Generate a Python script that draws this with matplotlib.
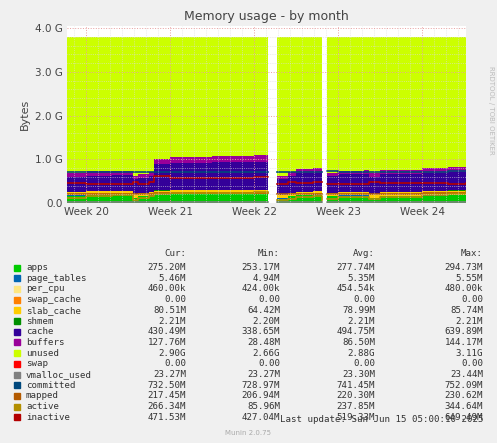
import numpy as np
import matplotlib.pyplot as plt
from matplotlib.ticker import MultipleLocator

# time in weeks, NaN separates the two gaps
weeks = [19.77, 20.0, 20.3, 20.55, 20.62, 20.75, 20.8, 21.0, 21.5, 22.0, 22.16,
         22.27, 22.4, 22.5, 22.7, 22.81,
         22.86, 23.0, 23.3, 23.37, 23.5, 24.0, 24.3, 24.52]
gap_after = [10, 15]  # indexes where data ends before a gap

apps = [0.17, 0.18, 0.19, 0.12, 0.15, 0.17, 0.19, 0.2, 0.2, 0.2, 0.2,
        0.1, 0.15, 0.18, 0.19, 0.15,
        0.15, 0.17, 0.17, 0.12, 0.16, 0.17, 0.18, 0.18]
page_tables = [0.005] * 24
per_cpu = [0.0005] * 24
swap_cache = [0.0] * 24
slab_cache = [0.08, 0.08, 0.08, 0.08, 0.08, 0.08, 0.09, 0.09, 0.1, 0.1, 0.1,
              0.07, 0.07, 0.07, 0.07, 0.07,
              0.07, 0.07, 0.07, 0.07, 0.08, 0.09, 0.1, 0.1]
shmem = [0.002] * 24
cache = [0.34, 0.36, 0.36, 0.34, 0.34, 0.36, 0.6, 0.62, 0.63, 0.64, 0.64,
         0.38, 0.4, 0.42, 0.43, 0.42,
         0.4, 0.41, 0.42, 0.4, 0.42, 0.43, 0.43, 0.43]
buffers = [0.09, 0.1, 0.1, 0.08, 0.09, 0.1, 0.11, 0.13, 0.14, 0.14, 0.14,
           0.06, 0.08, 0.09, 0.1, 0.09,
           0.06, 0.08, 0.09, 0.08, 0.09, 0.1, 0.11, 0.13]
total = 3.8
swap = [0.0] * 24
vmalloc_used = [0.023] * 24
committed = [0.72, 0.72, 0.72, 0.72, 0.72, 0.72, 0.72, 0.72, 0.72, 0.72, 0.72,
             0.7, 0.7, 0.7, 0.7, 0.7,
             0.73, 0.72, 0.72, 0.72, 0.72, 0.72, 0.73, 0.73]
mapped = [0.2, 0.21, 0.21, 0.21, 0.21, 0.21, 0.22, 0.22, 0.22, 0.22, 0.22,
          0.21, 0.21, 0.21, 0.21, 0.21,
          0.21, 0.21, 0.21, 0.21, 0.21, 0.22, 0.22, 0.22]
active = [0.12, 0.15, 0.18, 0.08, 0.12, 0.15, 0.2, 0.22, 0.24, 0.26, 0.26,
          0.06, 0.1, 0.14, 0.15, 0.08,
          0.1, 0.13, 0.14, 0.1, 0.14, 0.18, 0.2, 0.27]
inactive = [0.46, 0.44, 0.44, 0.47, 0.44, 0.47, 0.62, 0.58, 0.58, 0.6, 0.6,
            0.43, 0.47, 0.45, 0.47, 0.48,
            0.44, 0.44, 0.44, 0.47, 0.45, 0.45, 0.44, 0.45]

names = ["apps", "page_tables", "per_cpu", "swap_cache", "slab_cache", "shmem",
         "cache", "buffers", "unused", "swap", "vmalloc_used", "committed",
         "mapped", "active", "inactive"]
colors = ["#00CC00", "#0066B3", "#FFE680", "#FF8000", "#FFCC00", "#008F00",
          "#330099", "#990099", "#CCFF00", "#FF0000", "#808080", "#00487D",
          "#B35A00", "#B38F00", "#B30000"]
cur = ["275.20M", "5.46M", "460.00k", "0.00", "80.51M", "2.21M", "430.49M",
       "127.76M", "2.90G", "0.00", "23.27M", "732.50M", "217.45M", "266.34M", "471.53M"]
mins = ["253.17M", "4.94M", "424.00k", "0.00", "64.42M", "2.20M", "338.65M",
        "28.48M", "2.66G", "0.00", "23.27M", "728.97M", "206.94M", "85.96M", "427.04M"]
avgs = ["277.74M", "5.35M", "454.54k", "0.00", "78.99M", "2.21M", "494.75M",
        "86.50M", "2.88G", "0.00", "23.30M", "741.45M", "220.30M", "237.85M", "519.33M"]
maxs = ["294.73M", "5.55M", "480.00k", "0.00", "85.74M", "2.21M", "639.89M",
        "144.17M", "3.11G", "0.00", "23.44M", "752.09M", "230.62M", "344.64M", "649.49M"]

bg = "#F0F0F0"
fig = plt.figure(figsize=(4.97, 4.43), dpi=100, facecolor=bg)
ax = fig.add_axes([67/497, 1-203/443, 399/497, 177/443])
ax.set_facecolor("white")

t = np.array(weeks)
areas = np.array([apps, page_tables, per_cpu, swap_cache, slab_cache, shmem, cache, buffers])
unused = total - areas.sum(axis=0)
areas = np.vstack([areas, unused, swap])
lines = [vmalloc_used, committed, mapped, active, inactive]

segs = [(0, gap_after[0] + 1), (gap_after[0] + 1, gap_after[1] + 1), (gap_after[1] + 1, len(t))]
for a, b in segs:
    ts = t[a:b]
    bottom = np.zeros(b - a)
    for i in range(areas.shape[0]):
        ax.fill_between(ts, bottom, bottom + areas[i, a:b], step="post",
                        color=colors[i], lw=0)
        bottom = bottom + areas[i, a:b]
    for j, l in enumerate(lines):
        ax.step(ts, np.array(l)[a:b], where="post", color=colors[10 + j], lw=1.2)

ax.set_xlim(19.77, 24.52)
ax.set_ylim(0, 4.05)
ax.set_xticks([20, 21, 22, 23, 24])
ax.set_xticklabels(["Week 20", "Week 21", "Week 22", "Week 23", "Week 24"])
ax.set_yticks([0, 1, 2, 3, 4])
ax.set_yticklabels(["0.0", "1.0 G", "2.0 G", "3.0 G", "4.0 G"])
ax.yaxis.set_minor_locator(MultipleLocator(0.2))
ax.xaxis.set_minor_locator(MultipleLocator(1/7))
ax.grid(which="minor", color="#DDDDDD", ls=":", lw=0.5)
ax.grid(which="major", color="#E8A0A0", ls=":", lw=0.7)
ax.set_axisbelow(False)
for s in ax.spines.values():
    s.set_visible(False)
ax.tick_params(which="both", length=0, labelsize=7.5, colors="#444444", pad=3)
ax.set_ylabel("Bytes", fontsize=8, color="#444444")
ax.set_title("Memory usage - by month", fontsize=9, color="#444444", pad=4)

fig.text(0.988, 0.85, "RRDTOOL / TOBI OETIKER", rotation=270, fontsize=5,
         color="#BBBBBB", ha="center", va="top")

mono = "DejaVu Sans Mono"
fs = 6.6
hy = 254
fig.text(186/497, 1-hy/443, "Cur:", family=mono, fontsize=fs, ha="right", va="center", color="#333")
fig.text(280/497, 1-hy/443, "Min:", family=mono, fontsize=fs, ha="right", va="center", color="#333")
fig.text(375/497, 1-hy/443, "Avg:", family=mono, fontsize=fs, ha="right", va="center", color="#333")
fig.text(483/497, 1-hy/443, "Max:", family=mono, fontsize=fs, ha="right", va="center", color="#333")
for i, n in enumerate(names):
    y = 1 - (267.5 + i * 10.7) / 443
    fig.patches.append(plt.Rectangle((14/497, y - 3/443), 6/497, 6/443,
                                     transform=fig.transFigure, color=colors[i]))
    fig.text(26/497, y, n, family=mono, fontsize=fs, va="center", color="#333")
    for xr, v in zip([186, 280, 375, 483], [cur[i], mins[i], avgs[i], maxs[i]]):
        fig.text(xr/497, y, v, family=mono, fontsize=fs, ha="right", va="center", color="#333")
fig.text(483/497, 1-420/443, "Last update: Sun Jun 15 05:00:10 2025", family=mono,
         fontsize=fs, ha="right", va="center", color="#333")
fig.text(248/497, 1-433/443, "Munin 2.0.75", fontsize=5, ha="center", va="center", color="#AAAAAA")

fig.savefig("out.png", dpi=100, facecolor=bg)
